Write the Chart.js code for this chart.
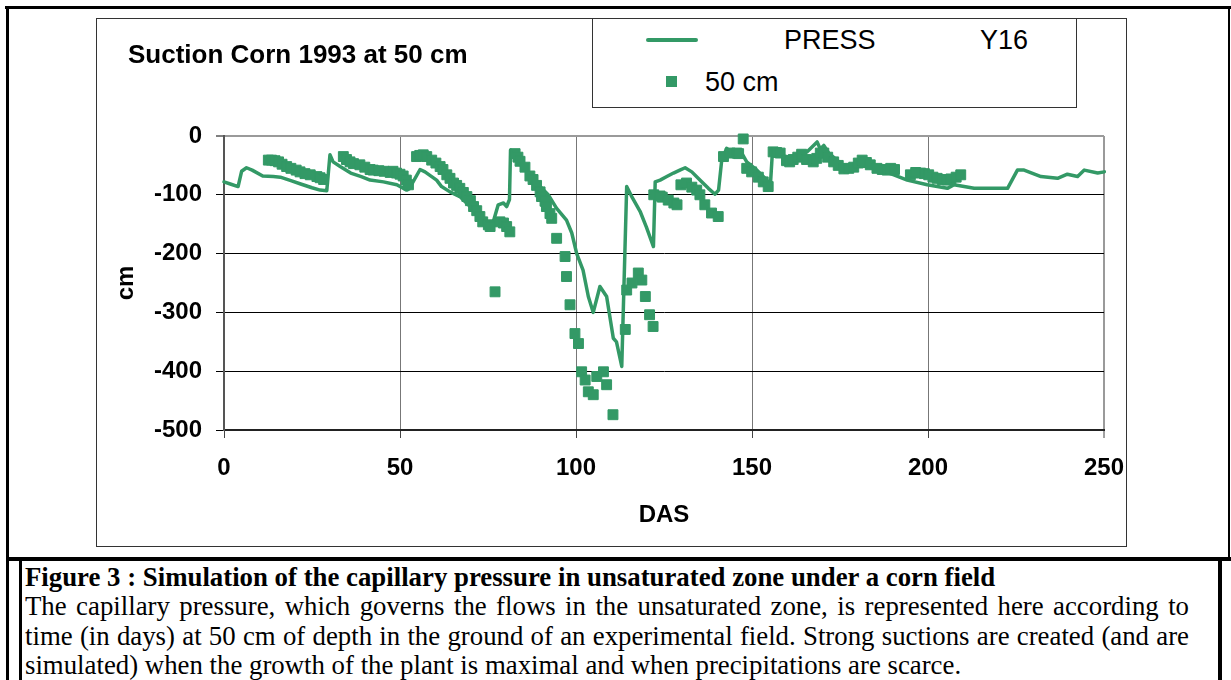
<!DOCTYPE html>
<html>
<head>
<meta charset="utf-8">
<script src="https://cdn.jsdelivr.net/npm/chart.js@4.4.1/dist/chart.umd.min.js"></script>
<style>
  html, body { margin: 0; padding: 0; background: #fff; }
  body { width: 1231px; height: 680px; position: relative; overflow: hidden; font-family: "Liberation Sans", Arial, sans-serif; color: #000; }
  .rule { position: absolute; background: #000; }
  #chartBox { position: absolute; left: 96px; top: 18px; width: 1029px; height: 527px; border: 1px solid #333; background: #fff; }
  #chartBox canvas { position: absolute; left: 0; top: 0; }
  #chartTitle { position: absolute; left: 128px; top: 41px; font-weight: bold; font-size: 26px; line-height: 26px; white-space: nowrap; }
  #legendBox { position: absolute; left: 592px; top: 18px; width: 485px; height: 90px; border: 1px solid #333; box-sizing: border-box; background: #fff; }
  .leg { position: absolute; font-size: 27px; line-height: 27px; white-space: nowrap; }
  #legLine { position: absolute; left: 646px; top: 38px; width: 52px; height: 4px; border-radius: 2px; background: #339966; }
  #legMark { position: absolute; left: 666px; top: 76px; width: 11px; height: 11px; background: #339966; }
  #caption { position: absolute; left: 25px; top: 563px; width: 1164px; font-family: "Liberation Serif", "Times New Roman", serif; font-size: 26.8px; line-height: 29.3px; }
  #caption .ttl { font-weight: bold; white-space: nowrap; }
  #caption .jl { text-align: justify; text-align-last: justify; }
</style>
</head>
<body>

<div class="rule" style="left:5px; top:6px; width:1226px; height:3px;"></div>
<div class="rule" style="left:6px; top:6px; width:3px; height:674px;"></div>
<div class="rule" style="left:1228px; top:6px; width:2px; height:554px;"></div>
<div class="rule" style="left:6px; top:557px; width:1225px; height:4px;"></div>
<div class="rule" style="left:19px; top:557px; width:3px; height:123px;"></div>
<div class="rule" style="left:1218px; top:557px; width:4px; height:123px;"></div>

<div id="chartBox"><canvas id="myChart" width="1029" height="527"></canvas></div>

<div id="chartTitle">Suction Corn 1993 at 50 cm</div>

<div id="legendBox"></div>
<div id="legLine"></div>
<div class="leg" style="left:784px; top:27px;">PRESS</div>
<div class="leg" style="left:980px; top:27px;">Y16</div>
<div id="legMark"></div>
<div class="leg" style="left:705px; top:69px;">50 cm</div>

<div id="caption">
  <div class="ttl">Figure 3 : Simulation of the capillary pressure in unsaturated zone under a corn field</div>
  <div class="jl">The capillary pressure, which governs the flows in the unsaturated zone, is represented here according to</div>
  <div class="jl">time (in days) at 50 cm of depth in the ground of an experimental field. Strong suctions are created (and are</div>
  <div>simulated) when the growth of the plant is maximal and when precipitations are scarce.</div>
</div>

<script>
/* simulated pressure (PRESS Y16), days after sowing */
const pressDays = [0, 2, 4, 5, 6.4, 8, 11, 14, 16, 19, 22, 25, 27.3, 29.2, 30.1, 31, 33, 36, 39, 41.5,
  45.3, 49.1, 51.9, 52.6, 55.7, 57.1, 60.4, 61.8, 64.2, 67, 69.9, 72.7, 75.1, 76.5, 77.9, 79.4, 80.3, 81.1, 81.4, 82.4,
  84.1, 86.9, 89.8, 92.1, 94.5, 97.3, 98.8, 100.2, 102, 103.5, 104.9, 106.8, 108.7, 110.6, 111.5, 113, 114.4, 116, 118.2, 120,
  122, 122.5, 123.9, 125.8, 127.7, 129.5, 131, 132.9, 135.2, 137.6, 139.5, 140.5, 141.4, 142.8, 144.2, 145.7, 146.6, 148.5, 151.4, 154.2,
  155.2, 155.8, 158, 160.5, 162.8, 165.6, 168.5, 169.4, 170.4, 171.8, 175.1, 177, 179.9, 182.7, 186.5, 190.3, 194.1, 199.8, 205.5, 207.4,
  213.1, 222.6, 225.4, 227.3, 232.1, 236.8, 239.6, 242.5, 244.4, 248.2, 250.1, 252.5];
const pressValues = [-78, -82, -86, -60, -54, -58, -68, -69, -70, -76, -82, -88, -92, -93, -32, -44, -52, -63, -69, -75,
  -78, -83, -92, -90, -57, -61, -75, -86, -95, -103, -120, -134, -149, -146, -117, -114, -120, -108, -24, -35,
  -46, -66, -86, -100, -123, -143, -165, -200, -228, -273, -300, -256, -273, -344, -350, -392, -86, -105, -128, -155,
  -188, -78, -75, -69, -63, -58, -54, -61, -75, -89, -99, -92, -41, -21, -27, -27, -24, -44, -58, -75,
  -86, -27, -32, -36, -35, -27, -10, -22, -16, -29, -46, -53, -46, -53, -58, -66, -75, -83, -89, -83,
  -89, -89, -58, -58, -69, -72, -65, -69, -58, -63, -61, -62];

/* measured suction at 50 cm */
const obsDays = [12.6, 13.5, 14.5, 15.5, 16.5, 17.8, 19, 20.5, 21.6, 23, 24.5, 26.4, 27.3, 28.3,
  33.9, 34.8, 35.8, 36.8, 38.6, 40, 41.5, 42.4, 44, 45.5, 47.2, 48, 49, 50, 50.9, 51.8, 52.4,
  54.7, 55.6, 56.6, 57.6, 59, 60.2, 61.4, 62.2, 63.3, 64.2, 65.2, 66.1, 67, 68, 69, 70, 70.9, 71.8, 72.7, 73.5,
  75.1, 75.6, 77, 78.4, 79.4, 80.3, 81.2,
  82.7, 83.5, 84.1, 85.5, 86.9, 87.8, 88.8, 89.8, 90.2, 91.2, 91.6, 92.6, 93.1, 94.5, 96.9, 97.3, 98.3, 99.7, 100.7,
  101.6, 102.6, 103.5, 104.9, 105.9, 107.8, 108.7, 110.5, 114, 114.4, 115.9, 117.7, 118.7, 119.7, 120.9, 121.9,
  122.1, 123.9, 124.5, 126.2, 127.8, 128.7, 129.8, 131.4, 132.9, 134.3, 135.2, 136.6, 138.5, 140.4,
  141.9, 143.8, 145.7, 146.2, 147.5, 148.5, 149.9, 151.8, 153.2, 154.6, 156, 157, 158, 159.8, 160.7, 161.7, 163, 164.1,
  165.5, 167.4, 168.4, 169.4, 170.4, 171.5, 173.2, 174.5, 176.1, 177.5, 178.9, 180.2, 181.3, 182.5, 183.6, 185.5,
  187, 188.4, 189.4, 190.5, 195, 196.5, 197.9, 199, 200.2, 201.4, 202.6, 204, 205.5, 206.5, 208, 209.3];
const obsValues = [-41, -41, -42, -44, -48, -52, -55, -58, -61, -64, -66, -69, -71, -74,
  -35, -40, -44, -47, -49, -53, -57, -58, -59, -60, -62, -60, -63, -65, -68, -75, -83,
  -35, -33, -32, -35, -41, -46, -52, -57, -66, -72, -80, -84, -89, -96, -103, -110, -120, -127, -137, -146,
  -151, -154, -265, -146, -148, -154, -163,
  -30, -36, -43, -53, -68, -74, -84, -95, -103, -111, -120, -132, -140, -174, -205, -239, -287, -336, -353,
  -401, -415, -435, -440, -409, -401, -423, -474, -329, -262, -250, -233, -245, -273, -304, -324,
  -100, -102, -104, -109, -114, -117, -83, -80, -87, -92, -100, -117, -131, -137,
  -35, -29, -29, -30, -5, -55, -61, -70, -78, -86, -27, -28, -29, -42, -44, -40, -36, -31,
  -40, -44, -38, -29, -29, -36, -44, -50, -56, -55, -53, -46, -41, -45, -49, -55,
  -57, -58, -55, -57, -66, -62, -63, -64, -66, -70, -72, -74, -75, -73, -70, -66];

const xTicks = [0, 50, 100, 150, 200, 250];
const yTicks = [0, -100, -200, -300, -400, -500];

const GREEN = '#339966';

Chart.defaults.font.family = "'Liberation Sans', Arial, sans-serif";
Chart.defaults.color = '#000';

const ctx = document.getElementById('myChart').getContext('2d');

new Chart(ctx, {
    type: 'scatter',
    data: {
        datasets: [{
            label: 'PRESS          Y16',
            data: pressDays.map((d, i) => ({x: d, y: pressValues[i]})),
            showLine: true,
            borderColor: GREEN,
            borderWidth: 3.5,
            borderJoinStyle: 'round',
            borderCapStyle: 'round',
            pointRadius: 0,
            tension: 0,
            clip: false,
            order: 1
        }, {
            label: '50 cm',
            data: obsDays.map((d, i) => ({x: d, y: obsValues[i]})),
            showLine: false,
            pointStyle: 'rect',
            pointRadius: 7,
            pointBorderWidth: 1,
            backgroundColor: GREEN,
            borderColor: GREEN,
            clip: false,
            order: 0
        }]
    },
    options: {
        responsive: false,
        animation: false,
        layout: { padding: { left: 0, right: 22, top: 117, bottom: 0 } },
        plugins: {
            legend: { display: false },
            tooltip: { enabled: false }
        },
        scales: {
            x: {
                type: 'linear',
                min: 0,
                max: 250,
                afterBuildTicks: (scale) => { scale.ticks = xTicks.map(v => ({value: v})); },
                afterFit: (scale) => {
                    scale.height = 116;
                    scale.paddingLeft = 0;
                    scale.paddingRight = 0;
                },
                ticks: { font: { size: 24, weight: 'bold' }, padding: 16, maxRotation: 0 },
                grid: {
                    color: (c) => (c.tick && c.tick.value === 250) ? '#9a9a9a' : '#777',
                    lineWidth: (c) => (c.tick && c.tick.value === 250) ? 2 : 1,
                    tickColor: '#444',
                    tickWidth: 1,
                    tickLength: 8
                },
                border: { color: '#222', width: 2 },
                title: { display: true, text: 'DAS', font: { size: 24, weight: 'bold' }, padding: { top: 0, bottom: 16 } }
            },
            y: {
                type: 'linear',
                min: -500,
                max: 0,
                afterBuildTicks: (scale) => { scale.ticks = yTicks.map(v => ({value: v})); },
                afterFit: (scale) => {
                    scale.width = 127;
                    scale.paddingTop = 0;
                    scale.paddingBottom = 0;
                },
                ticks: { font: { size: 24, weight: 'bold' }, padding: 14 },
                grid: {
                    color: (c) => (c.tick && c.tick.value === 0) ? '#9a9a9a' : '#000',
                    lineWidth: (c) => (c.tick && c.tick.value === 0) ? 2 : 1,
                    tickColor: '#000',
                    tickWidth: 1,
                    tickLength: 8
                },
                border: { color: '#555', width: 2 },
                title: { display: true, text: 'cm', font: { size: 24, weight: 'bold' }, padding: { top: 15, bottom: 0 } }
            }
        }
    }
});
</script>
</body>
</html>
